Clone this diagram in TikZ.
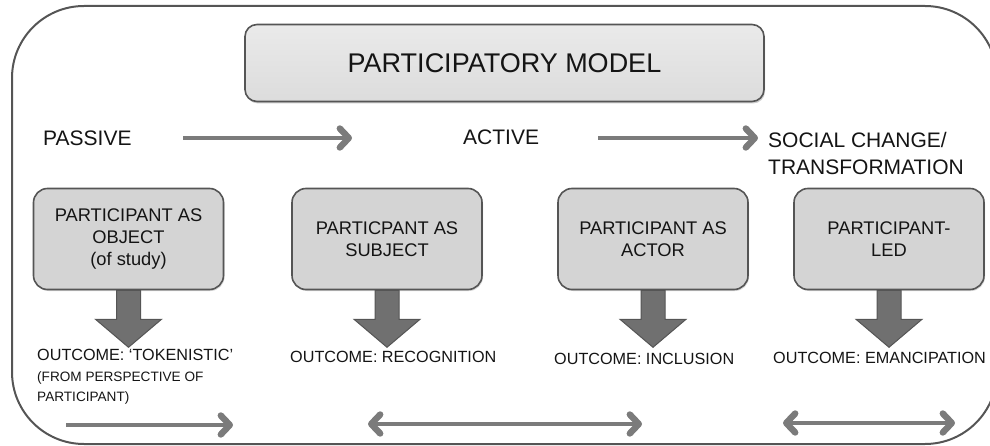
\documentclass[tikz,border=0pt]{standalone}
\usepackage{fontspec}
\setmainfont{Liberation Sans}
\usetikzlibrary{arrows.meta,shadows,calc}

\definecolor{framegray}{HTML}{555555}
\definecolor{boxfill}{HTML}{D4D4D4}
\definecolor{titletop}{HTML}{EAEAEA}
\definecolor{titlebottom}{HTML}{DCDCDC}
\definecolor{arrowgray}{HTML}{7B7B7B}
\definecolor{bigarrow}{HTML}{707070}
\definecolor{inkgray}{HTML}{141414}

\begin{document}
\begin{tikzpicture}[x=1pt,y=-1pt,
  titlebox/.style={draw=framegray, line width=1.6pt, rounded corners=12pt,
    top color=titletop, bottom color=titlebottom,
    minimum width=519pt, minimum height=77pt, text=inkgray,
    font=\fontsize{27}{32}\selectfont,
    drop shadow={shadow xshift=1pt, shadow yshift=-2pt, opacity=0.4}},
  stagebox/.style={draw=framegray, line width=1.6pt, fill=boxfill,
    rounded corners=14pt, minimum width=190pt, minimum height=101pt,
    align=center, text=inkgray, font=\fontsize{18.3}{22}\selectfont,
    drop shadow={shadow xshift=1pt, shadow yshift=-1.5pt, opacity=0.3}},
  scalelabel/.style={anchor=west, inner sep=0pt, text=inkgray,
    font=\fontsize{21}{27}\selectfont},
  outcome/.style={anchor=west, inner sep=0pt, text=inkgray,
    font=\fontsize{16.2}{20}\selectfont},
  smallnote/.style={anchor=north west, inner sep=0pt, align=left, text=inkgray,
    font=\fontsize{13.6}{20}\selectfont},
  barb/.tip={Straight Barb[length=9pt,width=19pt,line width=0pt 1.6,round]},
  flow/.style={draw=arrowgray, line width=4pt, -barb},
  twoway/.style={draw=arrowgray, line width=4pt, barb-barb},
  fatarrow/.style={fill=bigarrow, draw=framegray, line width=1pt, line join=miter}
]
\useasboundingbox (0,0) rectangle (990,446);

% outer frame
\begin{scope}
  \clip (0,0) rectangle (990,446);
  \draw[framegray, line width=2pt, rounded corners=72pt] (12,6) rectangle (997,444);
\end{scope}

% heading
\node[titlebox] (title) at (504.5,63) {PARTICIPATORY MODEL};

% scale of participation
\node[scalelabel] (passive) at (43,138) {PASSIVE};
\node[scalelabel] (active) at (463,137) {ACTIVE};
\node[scalelabel, align=left] (social) at (768,153) {SOCIAL CHANGE/\\TRANSFORMATION};

\coordinate (p1s) at (183,138);
\coordinate (p1e) at (352,138);
\coordinate (p2s) at (598,138);
\coordinate (p2e) at (758,138);
\draw[flow] (p1s) -- (p1e);
\draw[flow] (p2s) -- (p2e);

% stages
\node[stagebox] (b1) at (128.5,239) {PARTICIPANT AS\\OBJECT\\(of study)};
\node[stagebox] (b2) at (387,239) {PARTICPANT AS\\SUBJECT};
\node[stagebox] (b3) at (653,239) {PARTICIPANT AS\\ACTOR};
\node[stagebox] (b4) at (889,239) {PARTICIPANT-\\LED};

% block arrows from each stage to its outcome
\foreach \b in {b1,b2,b3,b4}{
  \draw[fatarrow] ($(\b.south)+(-12,0)$) -- ++(0,29) -- ++(-21,0)
    -- ($(\b.south)+(0,57)$) -- ($(\b.south)+(33,29)$) -- ++(-21,0)
    -- ($(\b.south)+(12,0)$) -- cycle;
}

% outcomes
\node[outcome] (o1) at (37,355) {OUTCOME: ‘TOKENISTIC’};
\node[smallnote] (o1note) at (37,371) {(FROM PERSPECTIVE OF\\PARTICIPANT)};
\node[outcome] (o2) at (290,357) {OUTCOME: RECOGNITION};
\node[outcome] (o3) at (554,359) {OUTCOME: INCLUSION};
\node[outcome] (o4) at (773,358) {OUTCOME: EMANCIPATION};

% bottom arrows
\coordinate (q1s) at (66,425);
\coordinate (q1e) at (233,425);
\coordinate (q2s) at (368,424);
\coordinate (q2e) at (642,424);
\coordinate (q3s) at (783,423);
\coordinate (q3e) at (955,423);
\draw[flow] (q1s) -- (q1e);
\draw[twoway] (q2s) -- (q2e);
\draw[twoway] (q3s) -- (q3e);
\end{tikzpicture}
\end{document}
